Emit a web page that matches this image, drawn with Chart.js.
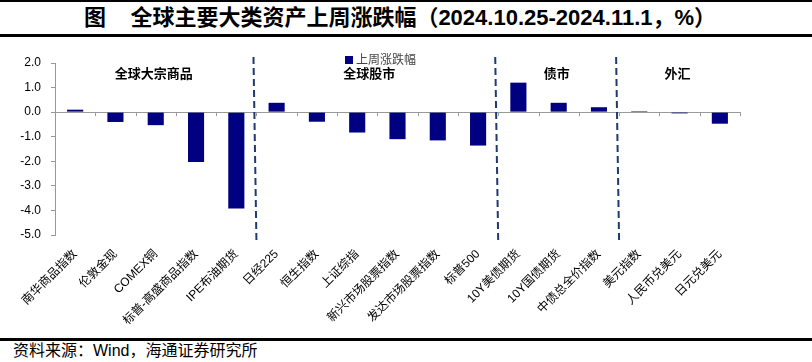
<!DOCTYPE html>
<html>
<head>
<meta charset="utf-8">
<script src="https://cdn.jsdelivr.net/npm/chart.js@4.4.0/dist/chart.umd.min.js"></script>
<style>
  body { margin: 0; background: #fff; width: 812px; height: 362px; overflow: hidden; position: relative;
         font-family: "Liberation Sans", "Noto Sans CJK SC", sans-serif; }
  #title { position: absolute; left: 0; top: 4px; width: 800px; text-align: center; font-size: 22px; font-weight: bold; color: #000; line-height: 28px; }
  .rule { position: absolute; left: 0; width: 812px; background: #000; }
  #wrap { position: absolute; left: 0; top: 40px; width: 812px; height: 298px; }
  #src { position: absolute; left: 13px; top: 341px; font-size: 16px; color: #000; line-height: 20px; }
  #legend { position: absolute; left: 345px; top: 50px; font-size: 12px; color: #444; }
  #legend span { display: inline-block; width: 8px; height: 8px; background: #000080; margin-right: 3px; }
</style>
</head>
<body>
<div class="rule" style="top:0;height:2px"></div>
<div id="title">图&nbsp;&nbsp;&nbsp;&nbsp;全球主要大类资产上周涨跌幅（2024.10.25-2024.11.1，%）</div>
<div class="rule" style="top:34px;height:3px"></div>
<div id="wrap"><canvas id="grafico"></canvas></div>
<div id="legend"><span></span>上周涨跌幅</div>
<div class="rule" style="top:338px;height:3px"></div>
<div id="src">资料来源：Wind，海通证券研究所</div>
<script>
const categorias = ["南华商品指数", "伦敦金现", "COMEX铜", "标普-高盛商品指数", "IPE布油期货",
  "日经225", "恒生指数", "上证综指", "新兴市场股票指数", "发达市场股票指数", "标普500",
  "10Y美债期货", "10Y国债期货", "中债总全价指数",
  "美元指数", "人民币兑美元", "日元兑美元"];
const variacao = [0.1, -0.4, -0.53, -2.03, -3.92,
  0.38, -0.39, -0.83, -1.1, -1.15, -1.36,
  1.2, 0.38, 0.2,
  0.04, -0.05, -0.47];
const grupos = ["全球大宗商品", "全球股市", "债市", "外汇"];
const yTicks = [2, 1, 0, -1, -2, -3, -4, -5];

// onde ficam divisorias e rotulos dos grupos (em indice de categoria)
const divisorias = [4.5, 10.5, 13.5];
const posGrupos = [1.95, 7.3, 11.95, 14.95];

const extras = {
  id: 'extras',
  afterDatasetsDraw(chart) {
    const { ctx, chartArea, scales: { x, y } } = chart;
    const passo = x.getPixelForValue(1) - x.getPixelForValue(0);
    const y0 = y.getPixelForValue(0);
    ctx.save();
    // tracinhos do eixo x na linha zero
    ctx.strokeStyle = '#999';
    ctx.lineWidth = 1;
    for (let i = 0; i <= categorias.length; i++) {
      const px = Math.round(x.getPixelForValue(0) - passo / 2 + i * passo) + 0.5;
      ctx.beginPath(); ctx.moveTo(px, y0); ctx.lineTo(px, y0 + 4); ctx.stroke();
    }
    // divisorias tracejadas
    ctx.strokeStyle = '#1f3a70';
    ctx.lineWidth = 2;
    ctx.setLineDash([7, 4]);
    divisorias.forEach(d => {
      const px = x.getPixelForValue(d) - 3;
      ctx.beginPath(); ctx.moveTo(px, chartArea.top - 6); ctx.lineTo(px + 3, chartArea.bottom + 8); ctx.stroke();
    });
    ctx.setLineDash([]);
    // nomes dos grupos
    ctx.fillStyle = '#000';
    ctx.font = 'bold 13px "Noto Sans CJK SC"';
    ctx.textAlign = 'center';
    ctx.textBaseline = 'middle';
    grupos.forEach((g, i) => ctx.fillText(g, x.getPixelForValue(posGrupos[i]), y.getPixelForValue(1.58)));
    ctx.restore();
  }
};

new Chart(document.getElementById('grafico'), {
  type: 'bar',
  data: {
    labels: categorias,
    datasets: [{ label: '上周涨跌幅', data: variacao, backgroundColor: '#000080',
      barPercentage: 0.4, categoryPercentage: 1 }]
  },
  options: {
    responsive: true,
    maintainAspectRatio: false,
    animation: false,
    layout: { padding: { top: 23, right: 72, left: 0, bottom: 0 } },
    plugins: { legend: { display: false }, tooltip: { enabled: false } },
    scales: {
      x: {
        grid: { display: false },
        border: { display: false },
        ticks: {
          autoSkip: false, minRotation: 45, maxRotation: 45, padding: 4,
          color: '#000', font: { size: 12, family: '"Liberation Sans", "Noto Sans CJK SC"' }
        },
        afterFit: s => { s.height = 103; }
      },
      y: {
        min: -5, max: 2,
        afterBuildTicks: s => { s.ticks = yTicks.map(v => ({ value: v })); },
        grid: {
          color: c => c.tick && c.tick.value === 0 ? '#999' : 'transparent',
          tickColor: '#999', tickLength: 4
        },
        border: { display: true, color: '#999' },
        ticks: {
          color: '#000', padding: 10,
          font: { size: 12, family: '"Liberation Sans"' },
          callback: v => v.toFixed(1)
        },
        afterFit: s => { s.width = 55; }
      }
    }
  },
  plugins: [extras]
});
</script>
</body>
</html>
